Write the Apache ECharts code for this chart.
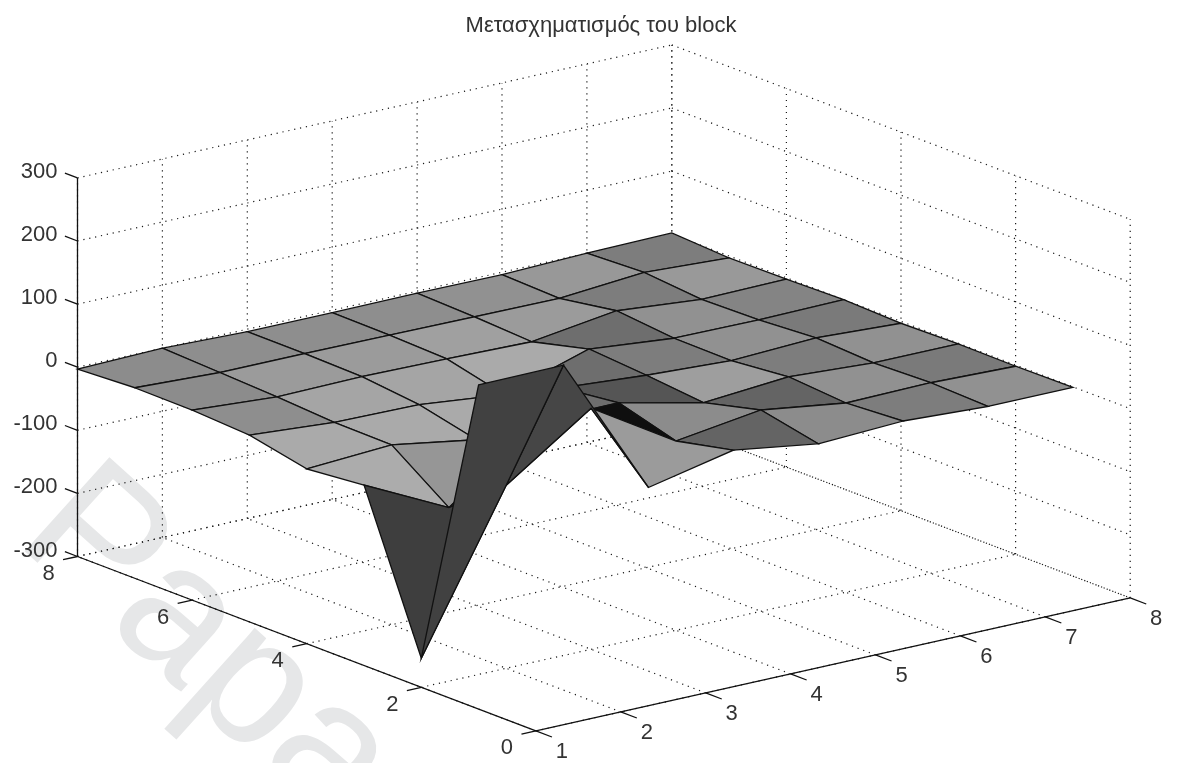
<!DOCTYPE html>
<html>
<head>
<meta charset="utf-8">
<style>html,body{margin:0;padding:0;background:#fff}#c{width:1178px;height:763px}</style>
<script src="https://cdn.jsdelivr.net/npm/echarts@6/dist/echarts.min.js"></script>
</head>
<body>
<div id="c"></div>
<script>
const titleText = 'Μετασχηματισμός του block';
const watermarkText = 'Papa';
const xTicks = [1, 2, 3, 4, 5, 6, 7, 8];
const yTicks = [0, 2, 4, 6, 8];
const zTicks = [-300, -200, -100, 0, 100, 200, 300];
// surface height: rows y = 1..8, columns x = 1..8
const surfaceZ = [
  [214, 215, -9, 20, 0, 6, -1, -1],
  [-254, -10, 82, 0, 19, 0, 2, -2],
  [-14, -80, 25, 26, -4, 7, -1, -1],
  [-23, -15, -37, 15, 5, -2, 4, -3],
  [-4, -14, -16, -30, 12, -1, -2, 0],
  [1, -8, -6, -8, -11, 8, -4, -2],
  [2, -4, -4, -5, -6, -7, 4, -3],
  [-3, 0, -4, -4, -3, -4, 0, 2]
];
// face grey level: rows y = 1..7, columns x = 1..7
const faceLevel = [
  [65, 70, 155, 100, 140, 125, 145],
  [62, 62, 15, 140, 100, 145, 122],
  [172, 150, 110, 85, 158, 125, 145],
  [170, 170, 170, 110, 125, 145, 122],
  [142, 165, 165, 170, 110, 145, 132],
  [140, 155, 155, 160, 155, 125, 153],
  [140, 142, 142, 142, 145, 152, 125]
];

// orthographic view of the 3D box onto the page's 2D axes
function project(x, y, z) {
  return [
    77.5 + 84.9 * (x - 1) + 57.3 * (8 - y),
    367.2 - 19 * (x - 1) + 21.8 * (8 - y) - 0.631 * z
  ];
}

const xMin = xTicks[0], xMax = xTicks[xTicks.length - 1];
const yMin = yTicks[0], yMax = yTicks[yTicks.length - 1];
const zMin = zTicks[0], zMax = zTicks[zTicks.length - 1];

const gridSegments = [];
xTicks.forEach(x => {
  gridSegments.push([[x, yMin, zMin], [x, yMax, zMin]]);
  gridSegments.push([[x, yMax, zMin], [x, yMax, zMax]]);
});
yTicks.forEach(y => {
  gridSegments.push([[xMin, y, zMin], [xMax, y, zMin]]);
  gridSegments.push([[xMax, y, zMin], [xMax, y, zMax]]);
});
zTicks.forEach(z => {
  gridSegments.push([[xMin, yMax, z], [xMax, yMax, z]]);
  gridSegments.push([[xMax, yMax, z], [xMax, yMin, z]]);
});

const faces = [];
for (let xi = 6; xi >= 0; xi--) {
  for (let yi = 6; yi >= 0; yi--) faces.push([xi, yi]);
}

const axisSegments = [
  [[xMin, yMax, zMin], [xMin, yMax, zMax]],
  [[xMin, yMin, zMin], [xMin, yMax, zMin]],
  [[xMin, yMin, zMin], [xMax, yMin, zMin]]
];
zTicks.forEach(z => axisSegments.push([[xMin, yMax, z], [xMin, yMax + 0.22, z]]));
yTicks.forEach(y => axisSegments.push([[xMin, y, zMin], [xMin - 0.17, y, zMin]]));
xTicks.forEach(x => axisSegments.push([[x, yMin, zMin], [x, yMin - 0.28, zMin]]));

const tickLabels = [];
xTicks.forEach(x => tickLabels.push({ pos: [x, yMin, zMin], text: String(x), dx: 26, dy: 21, align: 'center' }));
yTicks.forEach(y => tickLabels.push({ pos: [xMin, y, zMin], text: String(y), dx: -29, dy: 17.5, align: 'center' }));
zTicks.forEach(z => tickLabels.push({ pos: [xMin, yMax, z], text: String(z), dx: -20, dy: -6, align: 'right' }));

function segmentSeries(data, name, style) {
  return {
    type: 'custom', name, silent: true, clip: false,
    coordinateSystem: 'cartesian2d',
    data: data.map((_, i) => [i]),
    encode: { x: 0, y: 0 },
    renderItem(params, api) {
      const s = data[params.dataIndex];
      const a = api.coord(project(...s[0])), b = api.coord(project(...s[1]));
      return { type: 'line', shape: { x1: a[0], y1: a[1], x2: b[0], y2: b[1] }, style };
    }
  };
}

const chart = echarts.init(document.getElementById('c'), null, { renderer: 'canvas' });
chart.setOption({
  animation: false,
  backgroundColor: '#ffffff',
  title: {
    text: titleText, left: 596, top: 10, textAlign: 'center',
    textStyle: { fontFamily: 'Liberation Sans', fontSize: 22, fontWeight: 'normal', color: '#333333' }
  },
  grid: { left: 0, right: 0, top: 0, bottom: 0 },
  xAxis: { type: 'value', min: 0, max: 1178, show: false },
  yAxis: { type: 'value', min: 0, max: 763, inverse: true, show: false },
  graphic: [{
    type: 'text', silent: true, z: -10, x: -14, y: 572, rotation: -42 * Math.PI / 180,
    style: {
      text: watermarkText, fill: '#e6e7e8',
      font: '184px "Liberation Sans"', align: 'left', verticalAlign: 'bottom'
    }
  }],
  series: [
    segmentSeries(gridSegments, 'grid', { stroke: '#1a1a1a', lineWidth: 1.2, lineDash: [1.2, 4.8], fill: null }),
    {
      type: 'custom', name: 'surface', silent: true, clip: false,
      coordinateSystem: 'cartesian2d',
      data: faces,
      encode: { x: 0, y: 1 },
      renderItem(params, api) {
        const [xi, yi] = faces[params.dataIndex];
        const corner = (i, j) => api.coord(project(i + 1, j + 1, surfaceZ[j][i]));
        const g = faceLevel[yi][xi];
        return {
          type: 'polygon',
          shape: { points: [corner(xi, yi), corner(xi + 1, yi), corner(xi + 1, yi + 1), corner(xi, yi + 1)] },
          style: { fill: `rgb(${g},${g},${g})`, stroke: '#111111', lineWidth: 1.3 }
        };
      }
    },
    segmentSeries(axisSegments, 'axes', { stroke: '#111111', lineWidth: 1.3, fill: null }),
    {
      type: 'custom', name: 'ticks', silent: true, clip: false,
      coordinateSystem: 'cartesian2d',
      data: tickLabels.map((_, i) => [i]),
      encode: { x: 0, y: 0 },
      renderItem(params, api) {
        const t = tickLabels[params.dataIndex];
        const p = api.coord(project(...t.pos));
        return {
          type: 'text',
          style: {
            text: t.text, x: p[0] + t.dx, y: p[1] + t.dy, align: t.align, verticalAlign: 'middle',
            font: '22px "Liberation Sans"', fill: '#333333'
          }
        };
      }
    }
  ]
});
</script>
</body>
</html>
